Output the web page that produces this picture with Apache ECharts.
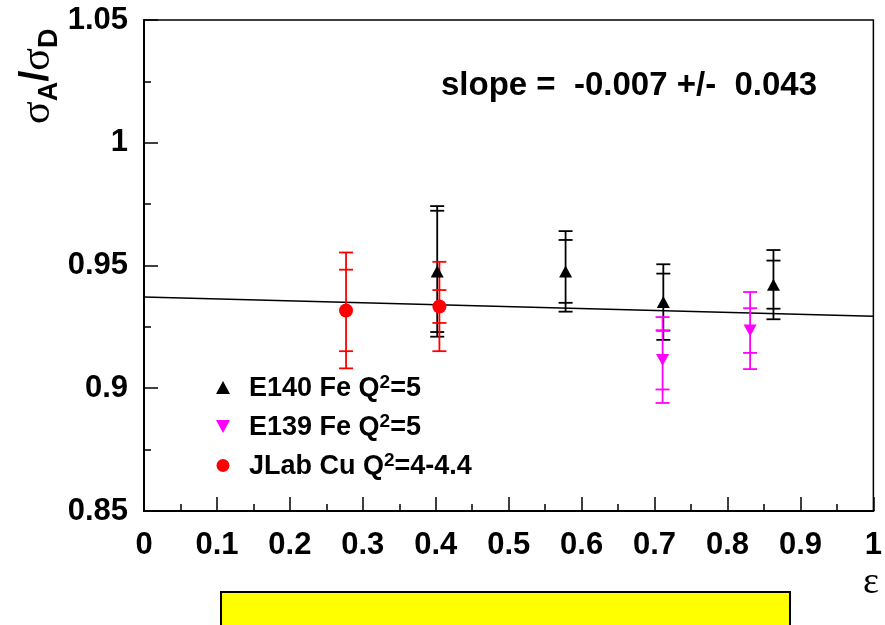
<!DOCTYPE html>
<html><head><meta charset="utf-8">
<script src="https://cdn.jsdelivr.net/npm/echarts@6/dist/echarts.min.js"></script>
<style>html,body{margin:0;padding:0;background:#fff}#c{width:885px;height:625px}</style>
</head><body><div id="c"></div>
<script>
// ---- data ----
const xTickLabels = ['0','0.1','0.2','0.3','0.4','0.5','0.6','0.7','0.8','0.9','1'];
const yTickLabels = ['0.85','0.9','0.95','1','1.05'];

const e140X    = [0.402, 0.578, 0.712, 0.863];
const e140Y    = [0.9476, 0.9476, 0.9351, 0.9422];
const e140Stat = [0.0247, 0.0128, 0.0116, 0.0098];
const e140Tot  = [0.0266, 0.0164, 0.0154, 0.0141];

const e139X    = [0.711, 0.831];
const e139Y    = [0.9115, 0.9235];
const e139Stat = [0.0120, 0.0091];
const e139Tot  = [0.0175, 0.0157];

const jlabX    = [0.277, 0.405];
const jlabY    = [0.9317, 0.9333];
const jlabStat = [0.0166, 0.0067];
const jlabTot  = [0.0236, 0.0182];

const fitX = [0, 1];
const fitY = [0.9372, 0.9293];

const seriesNames = ['E140 Fe Q2=5', 'E139 Fe Q2=5', 'JLab Cu Q2=4-4.4'];
const legendRich = ['{b|E140 Fe Q}{s|2}{b|=5}', '{b|E139 Fe Q}{s|2}{b|=5}', '{b|JLab Cu Q}{s|2}{b|=4-4.4}'];
const slopeText = 'slope =  -0.007 +/-  0.043';

// ---- build ----
const SANS = '"Liberation Sans", Arial, Helvetica, sans-serif';
const SERIF = '"Liberation Serif", "Times New Roman", serif';
const DOWN_TRI = 'path://M0,0L12,0L6,11Z';
function pts(xs, ys, a, b) { return xs.map((x, i) => [x, ys[i], a[i], b[i]]); }
function errSeries(name, data, color) {
  return {
    type: 'custom', name: name + ' err', data: data, z: 3,
    encode: { x: 0, y: 1 },
    renderItem: function (params, api) {
      const x = api.value(0), y = api.value(1), s = api.value(2), t = api.value(3);
      const cx = api.coord([x, y])[0];
      const hi = api.coord([x, y + t])[1], lo = api.coord([x, y - t])[1];
      const ihi = api.coord([x, y + s])[1], ilo = api.coord([x, y - s])[1];
      const w = 7;
      const st = { stroke: color, lineWidth: 1.8 };
      const cap = yy => ({ type: 'line', shape: { x1: cx - w, y1: yy, x2: cx + w, y2: yy }, style: st });
      return { type: 'group', children: [
        { type: 'line', shape: { x1: cx, y1: hi, x2: cx, y2: lo }, style: st },
        cap(hi), cap(lo), cap(ihi), cap(ilo)
      ]};
    }
  };
}

const mctx = document.createElement('canvas').getContext('2d');
function tw(font, t) { mctx.font = font; return mctx.measureText(t).width; }
const fMain = '42px ' + SERIF;
const fSlash = 'bold 40px ' + SANS;
const fSub = 'bold 27px ' + SANS;
const parts = [['σ', fMain, 0], ['A', fSub, 12], ['/', fSlash, -1], ['σ', fMain, 0], ['D', fSub, 12]];
let acc = 0;
const yTitleChildren = parts.map(p => {
  const el = { type: 'text', x: acc, y: p[2], style: { text: p[0], font: p[1], fill: '#000', textAlign: 'left', textVerticalAlign: 'middle' } };
  acc += tw(p[1], p[0]);
  return el;
});

const chart = echarts.init(document.getElementById('c'), null, { renderer: 'canvas' });
const axisFont = { color: '#000', fontSize: 31, fontWeight: 'bold', fontFamily: SANS };
chart.setOption({
  animation: false,
  backgroundColor: '#fff',
  grid: { left: 144, top: 20, width: 737, height: 491, show: true, borderColor: '#000', borderWidth: 1.5, backgroundColor: 'transparent' },
  xAxis: {
    type: 'value', min: 0, max: 1, interval: 0.1,
    axisLine: { show: true, onZero: false, lineStyle: { color: '#000', width: 2 } },
    axisTick: { show: true, inside: true, length: 14, lineStyle: { color: '#000', width: 1.5 } },
    minorTick: { show: true, splitNumber: 2, length: 7, lineStyle: { color: '#000', width: 1.5 } },
    splitLine: { show: false },
    axisLabel: Object.assign({ margin: 19, showMaxLabel: true, showMinLabel: true,
      formatter: v => xTickLabels[Math.round(v * 10)] }, axisFont)
  },
  yAxis: {
    type: 'value', min: 0.85, max: 1.05, interval: 0.05,
    axisLine: { show: true, onZero: false, lineStyle: { color: '#000', width: 2 } },
    axisTick: { show: true, inside: true, length: 14, lineStyle: { color: '#000', width: 1.5 } },
    minorTick: { show: true, splitNumber: 2, length: 7, lineStyle: { color: '#000', width: 1.5 } },
    splitLine: { show: false },
    axisLabel: Object.assign({ margin: 16, showMaxLabel: true, showMinLabel: true,
      formatter: v => yTickLabels[Math.round((v - 0.85) / 0.05)] }, axisFont)
  },
  legend: {
    orient: 'vertical', left: 211, top: 368, itemWidth: 14, itemHeight: 13, itemGap: 10,
    data: seriesNames,
    formatter: name => legendRich[seriesNames.indexOf(name)],
    textStyle: {
      color: '#000', fontFamily: SANS, fontWeight: 'bold', fontSize: 27, padding: [0, 0, 0, 14],
      rich: {
        b: { color: '#000', fontFamily: SANS, fontWeight: 'bold', fontSize: 27, lineHeight: 29, verticalAlign: 'bottom' },
        s: { color: '#000', fontFamily: SANS, fontWeight: 'bold', fontSize: 19, lineHeight: 19, verticalAlign: 'top' }
      }
    }
  },
  graphic: [
    { type: 'text', x: 441, y: 86, style: { text: slopeText, font: 'bold 33px ' + SANS, fill: '#000', textAlign: 'left', textVerticalAlign: 'middle' } },
    { type: 'rect', shape: { x: 221, y: 592, width: 569, height: 50 }, style: { fill: '#ffff00', stroke: '#000', lineWidth: 2 } },
    { type: 'text', x: 871, y: 583, style: { text: 'ε', font: '38px ' + SERIF, fill: '#000', textAlign: 'center', textVerticalAlign: 'middle' } },
    { type: 'group', x: 38, y: 124, rotation: Math.PI / 2, children: yTitleChildren }
  ],
  series: [
    { type: 'line', name: 'fit', data: fitX.map((x, i) => [x, fitY[i]]), symbol: 'none', z: 1,
      lineStyle: { color: '#000', width: 1.5 }, silent: true },
    errSeries('E140', pts(e140X, e140Y, e140Stat, e140Tot), '#000000'),
    errSeries('E139', pts(e139X, e139Y, e139Stat, e139Tot), '#ff00ff'),
    errSeries('JLab', pts(jlabX, jlabY, jlabStat, jlabTot), '#ff0000'),
    { type: 'scatter', name: seriesNames[0], data: e140X.map((x, i) => [x, e140Y[i]]), z: 5,
      symbol: 'triangle', symbolSize: [13, 12], itemStyle: { color: '#000', opacity: 1 } },
    { type: 'scatter', name: seriesNames[1], data: e139X.map((x, i) => [x, e139Y[i]]), z: 5,
      symbol: DOWN_TRI, symbolSize: [13, 12], itemStyle: { color: '#ff00ff', opacity: 1 } },
    { type: 'scatter', name: seriesNames[2], data: jlabX.map((x, i) => [x, jlabY[i]]), z: 5,
      symbol: 'circle', symbolSize: 14, itemStyle: { color: '#ff0000', opacity: 1 } }
  ]
});
</script>
</body></html>
